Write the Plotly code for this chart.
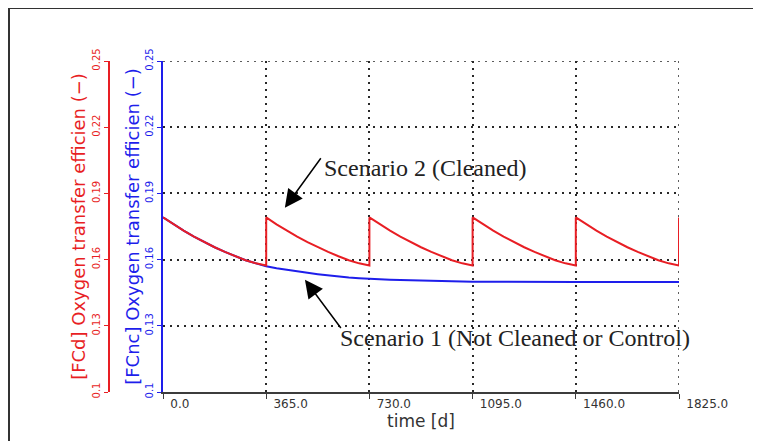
import plotly.graph_objects as go

# ---- data ----
red_days = [0, 36.5, 73, 109.5, 146, 182.5, 219, 255.5, 292, 328.5, 365,
            365, 365, 401.5, 438, 474.5, 511, 547.5, 584, 620.5, 657, 693.5, 730,
            730, 766.5, 803, 839.5, 876, 912.5, 949, 985.5, 1022, 1058.5, 1095,
            1095, 1131.5, 1168, 1204.5, 1241, 1277.5, 1314, 1350.5, 1387, 1423.5, 1460,
            1460, 1496.5, 1533, 1569.5, 1606, 1642.5, 1679, 1715.5, 1752, 1788.5, 1825,
            1825, 1825]
red_vals = [0.1792, 0.1760, 0.1731, 0.1704, 0.1679, 0.1656, 0.1635, 0.1615, 0.1597, 0.1583, 0.1573,
            0.1690, 0.1791, 0.1760, 0.1731, 0.1704, 0.1679, 0.1656, 0.1635, 0.1615, 0.1597, 0.1583, 0.1573,
            0.1791, 0.1760, 0.1731, 0.1704, 0.1679, 0.1656, 0.1635, 0.1615, 0.1597, 0.1583, 0.1573,
            0.1791, 0.1760, 0.1731, 0.1704, 0.1679, 0.1656, 0.1635, 0.1615, 0.1597, 0.1583, 0.1573,
            0.1791, 0.1760, 0.1731, 0.1704, 0.1679, 0.1656, 0.1635, 0.1615, 0.1597, 0.1583, 0.1573,
            0.1690, 0.1791]

blue_days = [0, 36.5, 73, 109.5, 146, 182.5, 219, 255.5, 292, 328.5, 365,
             401.5, 438, 474.5, 511, 547.5, 584, 620.5, 657, 693.5, 730,
             803, 876, 949, 1022, 1095, 1460, 1825]
blue_vals = [0.1792, 0.1760, 0.1731, 0.1704, 0.1679, 0.1656, 0.1635, 0.1615, 0.1597, 0.1583, 0.1570,
             0.1561, 0.1553, 0.1546, 0.1540, 0.1534, 0.1528, 0.1523, 0.1519, 0.1516, 0.1513,
             0.1509, 0.1506, 0.1504, 0.1502, 0.1500, 0.1499, 0.1499]

x_ticks = [0, 365, 730, 1095, 1460, 1825]
x_ticktext = ["0.0", "365.0", "730.0", "1095.0", "1460.0", "1825.0"]
y_ticks = [0.10, 0.13, 0.16, 0.19, 0.22, 0.25]
y_ticktext = ["0.1", "0.13", "0.16", "0.19", "0.22", "0.25"]

RED = "rgb(232,30,36)"
BLUE = "rgb(30,30,235)"
GRID = "rgb(40,40,40)"
AX = "rgb(60,60,60)"
DOT = "2px,5px"

fig = go.Figure()
fig.add_trace(go.Scatter(x=blue_days, y=blue_vals, mode="lines", line=dict(color=BLUE, width=2),
                         yaxis="y", showlegend=False))
fig.add_trace(go.Scatter(x=red_days, y=red_vals, mode="lines", line=dict(color=RED, width=2),
                         yaxis="y2", showlegend=False))

# page body has an 8px margin, so the figure is 8px smaller than the window
W, H = 753, 433
ml, mr, mt, mb = 12, 82, 53, 48.5
pw = W - ml - mr
x0 = (155 - ml) / pw
redpos = (101 - ml) / pw

fig.update_layout(
    width=W, height=H,
    margin=dict(l=ml, r=mr, t=mt, b=mb, pad=0),
    paper_bgcolor="white", plot_bgcolor="white",
    xaxis=dict(domain=[x0, 1], range=[0, 1825], tickvals=x_ticks, ticktext=x_ticktext,
               showline=True, linecolor=AX, linewidth=1.5, ticks="outside", ticklen=5, tickcolor=AX,
               ticklabelposition="outside right", ticklabelshift=6,
               tickfont=dict(family="DejaVu Sans", size=12, color="#333"),
               showgrid=True, gridcolor=GRID, griddash=DOT, gridwidth=1.5, zeroline=False,
               title=dict(text="time [d]", font=dict(family="DejaVu Sans", size=17, color="#333"), standoff=0)),
    yaxis=dict(range=[0.1, 0.25], tickvals=y_ticks, ticktext=y_ticktext, tickangle=-90,
               showline=True, linecolor=BLUE, linewidth=2, ticks="outside", ticklen=4, tickcolor=BLUE,
               tickfont=dict(family="DejaVu Sans", size=10, color=BLUE),
               showgrid=True, gridcolor=GRID, griddash=DOT, gridwidth=1.5, zeroline=False,
               title=dict(text="[FCnc] Oxygen transfer efficien (\u2212)",
                          font=dict(family="DejaVu Sans", size=18, color=BLUE), standoff=0)),
    yaxis2=dict(range=[0.1, 0.25], tickvals=y_ticks, ticktext=y_ticktext, tickangle=-90,
                overlaying="y", anchor="free", position=redpos, side="left",
                showline=True, linecolor=RED, linewidth=2, ticks="outside", ticklen=4, tickcolor=RED,
                tickfont=dict(family="DejaVu Sans", size=10, color=RED),
                showgrid=False, zeroline=False,
                title=dict(text="[FCd] Oxygen transfer efficien (\u2212)",
                           font=dict(family="DejaVu Sans", size=18, color=RED), standoff=0)),
)

# dotted grid lines at the top and right edges of the plot (Plotly omits edge grid lines)
fig.add_shape(type="line", xref="x", yref="y", x0=x_ticks[0], x1=x_ticks[-1], y0=y_ticks[-1], y1=y_ticks[-1],
              line=dict(color=GRID, width=1.5, dash=DOT), layer="below")
fig.add_shape(type="line", xref="x", yref="y", x0=x_ticks[-1], x1=x_ticks[-1], y0=y_ticks[0], y1=y_ticks[-1],
              line=dict(color=GRID, width=1.5, dash=DOT), layer="below")

# frame around the picture
def px2paper(px, py):
    return (px - ml) / pw, (H - mb - py) / (H - mt - mb)

fx0, fy0 = px2paper(1, 0)
fx1, fy1 = px2paper(770, 450)
fig.add_shape(type="rect", xref="paper", yref="paper", x0=fx0, y0=fy1, x1=fx1, y1=fy0,
              line=dict(color="rgb(50,50,50)", width=2), fillcolor="rgba(0,0,0,0)")

TXT = dict(family="Liberation Serif", size=24, color="#222")
fig.add_annotation(x=562, y=0.2016, xref="x", yref="y", text="Scenario 2 (Cleaned)", showarrow=False,
                   xanchor="left", yanchor="middle", font=TXT)
fig.add_annotation(x=431, y=0.1835, xref="x", yref="y", ax=562, ay=0.2066, axref="x", ayref="y",
                   text="", showarrow=True, arrowhead=2, arrowsize=2.4, arrowwidth=1.5, arrowcolor="black")
fig.add_annotation(x=620, y=0.1247, xref="x", yref="y", text="Scenario 1 (Not Cleaned or Control)",
                   showarrow=False, xanchor="left", yanchor="middle", font=TXT)
fig.add_annotation(x=502, y=0.1509, xref="x", yref="y", ax=633, ay=0.1283, axref="x", ayref="y",
                   text="", showarrow=True, arrowhead=2, arrowsize=2.4, arrowwidth=1.5, arrowcolor="black")

fig.write_html("out.html")
